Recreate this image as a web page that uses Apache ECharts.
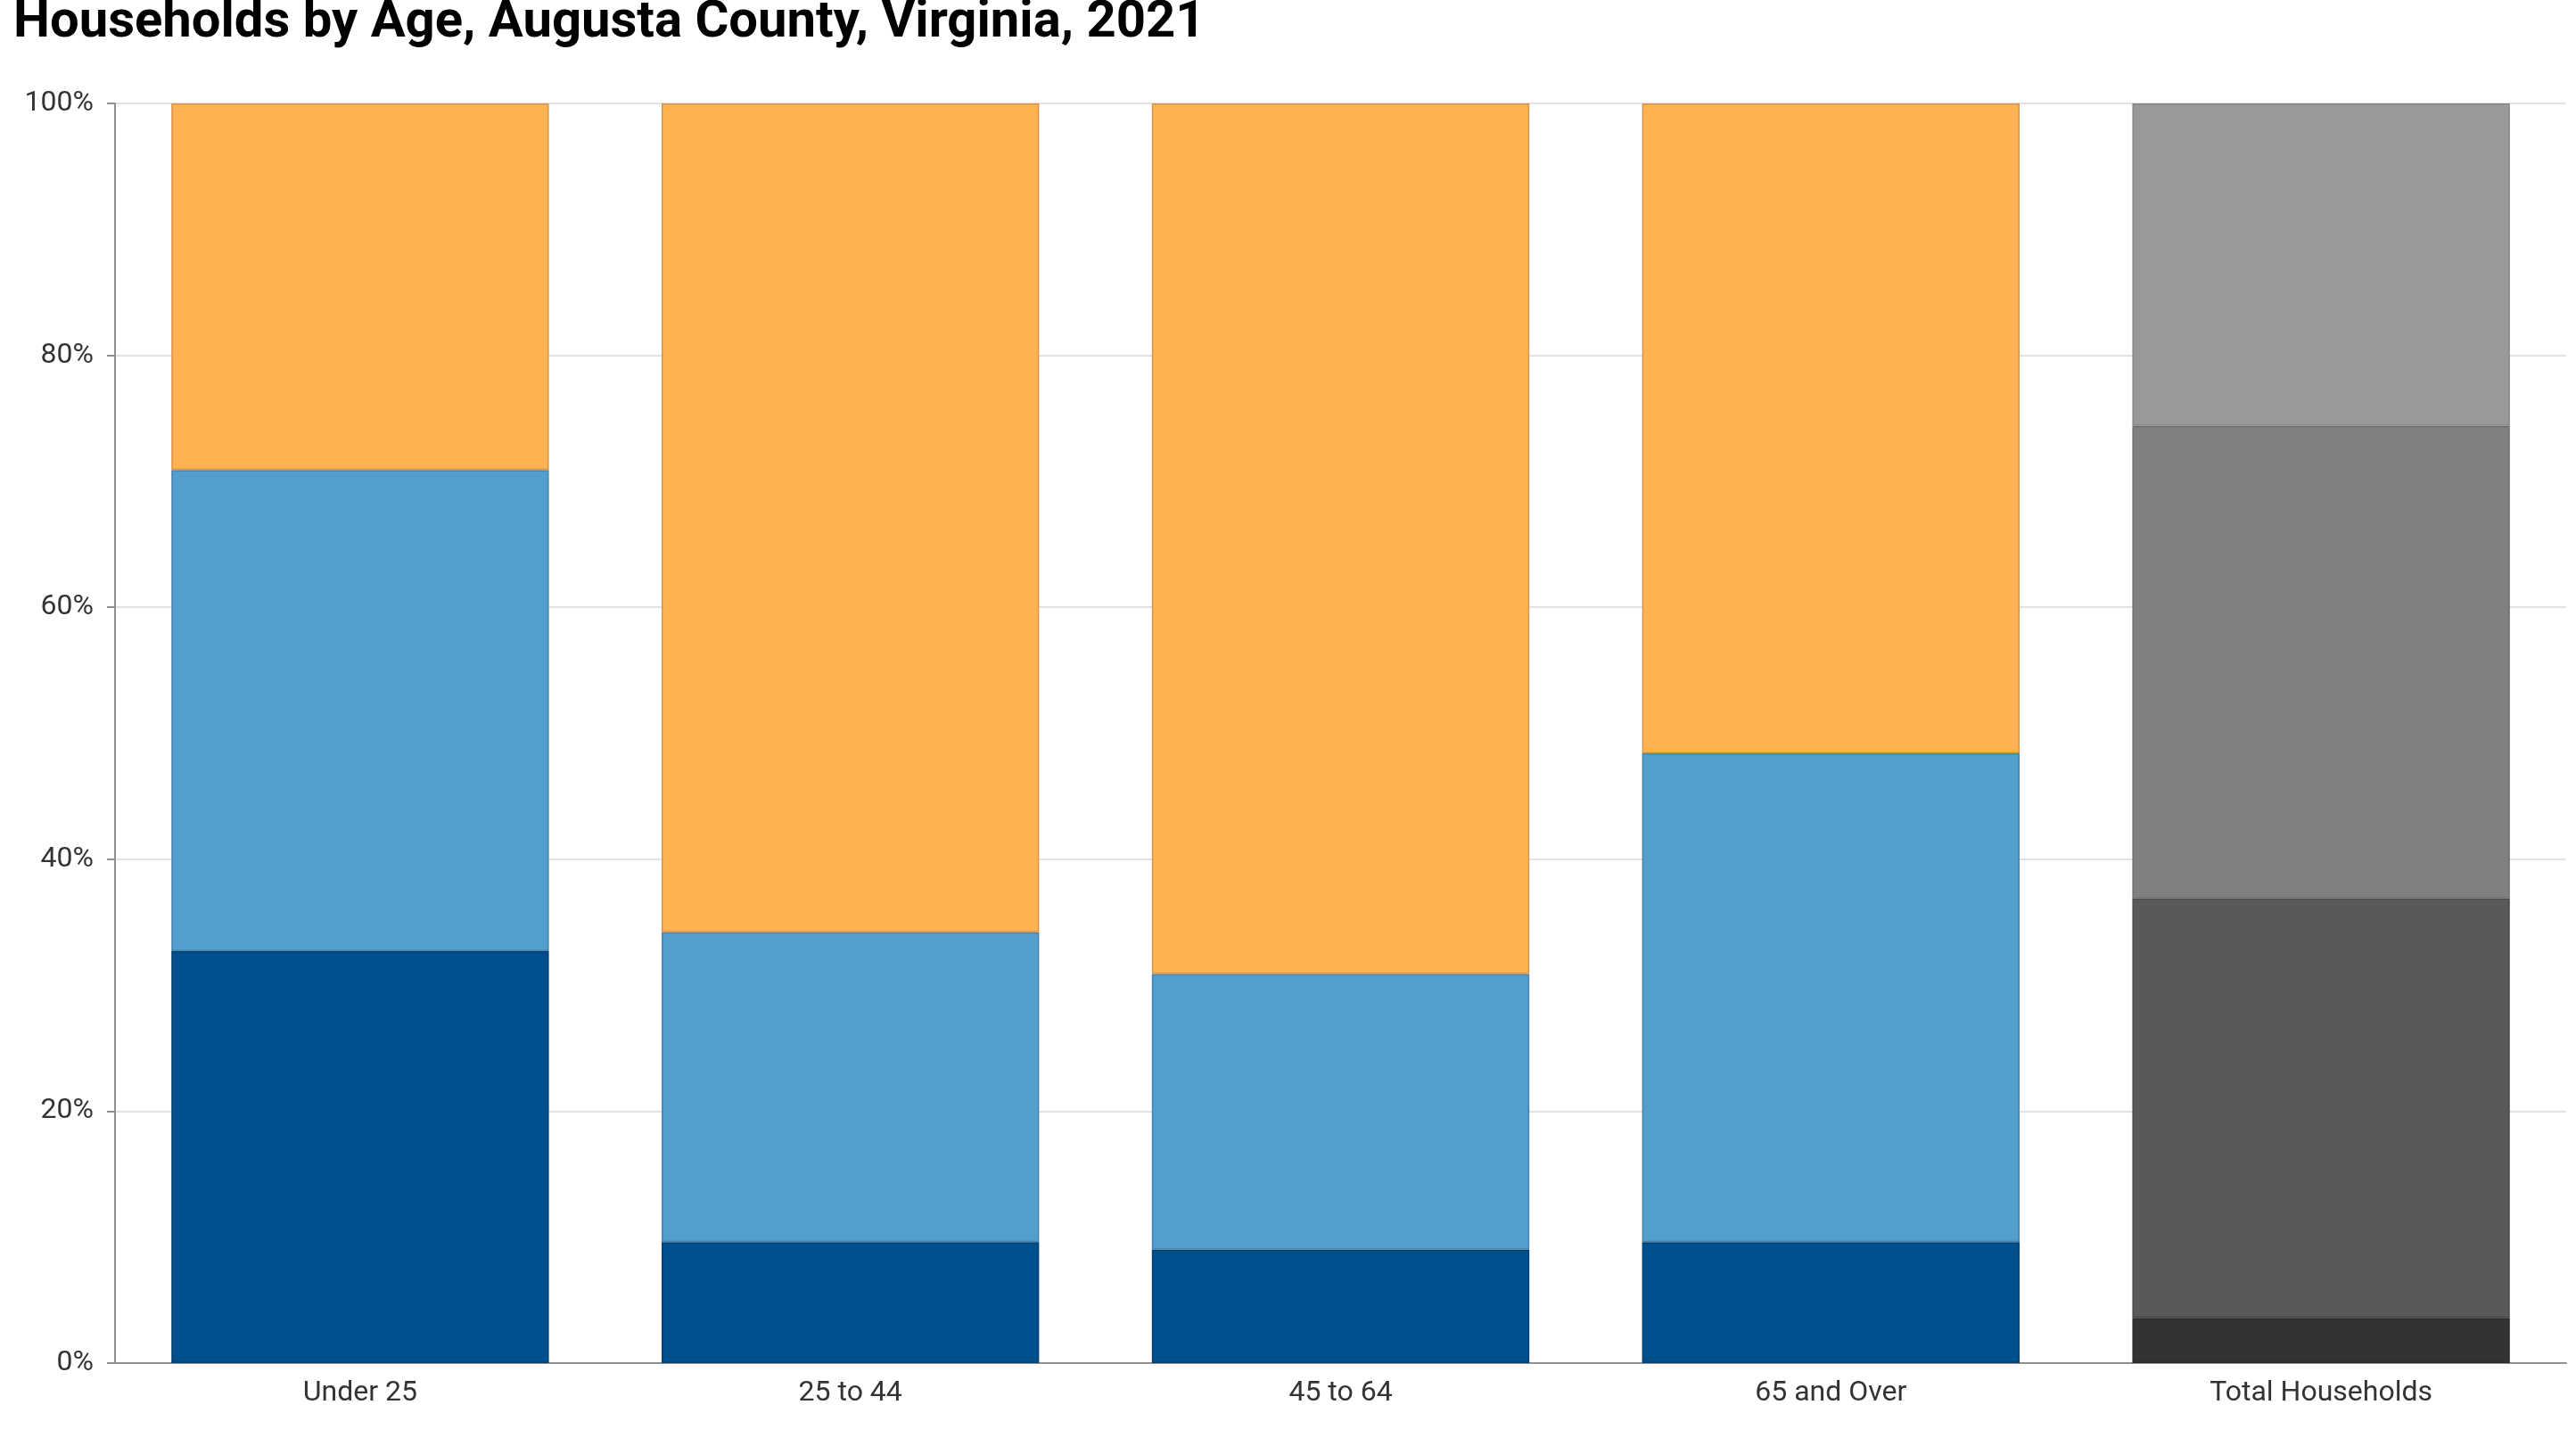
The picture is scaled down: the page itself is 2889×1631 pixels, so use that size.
<!DOCTYPE html>
<html><head><meta charset="utf-8">
<script src="https://cdn.jsdelivr.net/npm/echarts@6/dist/echarts.min.js"></script>
<style>html,body{margin:0;padding:0;background:#fff}#c{width:2889px;height:1631px}</style>
</head><body><div id="c"></div>
<script>
const categories = ['Under 25', '25 to 44', '45 to 64', '65 and Over', 'Total Households'];
const yTicks = [0, 20, 40, 60, 80, 100];
// shares (%) for age groups: bottom, middle, top segments
const segBottom = [32.7, 9.6, 9.0, 9.6, null];
const segMiddle = [38.2, 24.6, 21.9, 38.8, null];
const segTop    = [29.1, 65.8, 69.1, 51.6, null];
// Total Households bar: four segments
const totalA = [null, null, null, null, 3.6];
const totalB = [null, null, null, null, 33.3];
const totalC = [null, null, null, null, 37.5];
const totalD = [null, null, null, null, 25.6];

const chart = echarts.init(document.getElementById('c'), null, {renderer: 'canvas'});
function s(name, data, color, border) {
  return {name, type: 'bar', stack: 'all', data, barCategoryGap: '23%',
    itemStyle: {color, borderColor: border, borderWidth: 1.5}, emphasis: {disabled: true}};
}
chart.setOption({
  animation: false,
  title: {text: 'Households by Age, Augusta County, Virginia, 2021', left: 10, top: -8,
    textStyle: {fontFamily: 'Roboto', fontWeight: 'bold', fontSize: 58, color: '#000'}},
  grid: {left: 129, right: 11, top: 116, bottom: 102, containLabel: false},
  xAxis: {type: 'category', data: categories,
    axisLine: {lineStyle: {color: '#8f8f8f', width: 2}}, axisTick: {show: false},
    axisLabel: {fontFamily: 'Roboto', fontSize: 32, color: '#333', margin: 18}},
  yAxis: {type: 'value', min: 0, max: 100, interval: 20,
    axisLine: {show: true, lineStyle: {color: '#8f8f8f', width: 2}},
    axisTick: {show: true, length: 9, lineStyle: {color: '#8f8f8f', width: 2}},
    splitLine: {lineStyle: {color: '#e2e2e2', width: 2}},
    axisLabel: {fontFamily: 'Roboto', fontSize: 32, color: '#333', margin: 24,
      formatter: v => yTicks.includes(v) ? v + '%' : ''}},
  series: [
    s('bottom', segBottom, '#01508e', '#003f72'),
    s('middle', segMiddle, '#529ecf', '#4682ad'),
    s('top', segTop, '#ffb252', '#d9934a'),
    s('totalA', totalA, '#333333', '#2a2a2a'),
    s('totalB', totalB, '#595959', '#4a4a4a'),
    s('totalC', totalC, '#808080', '#6e6e6e'),
    s('totalD', totalD, '#999999', '#858585')
  ]
});
</script></body></html>
